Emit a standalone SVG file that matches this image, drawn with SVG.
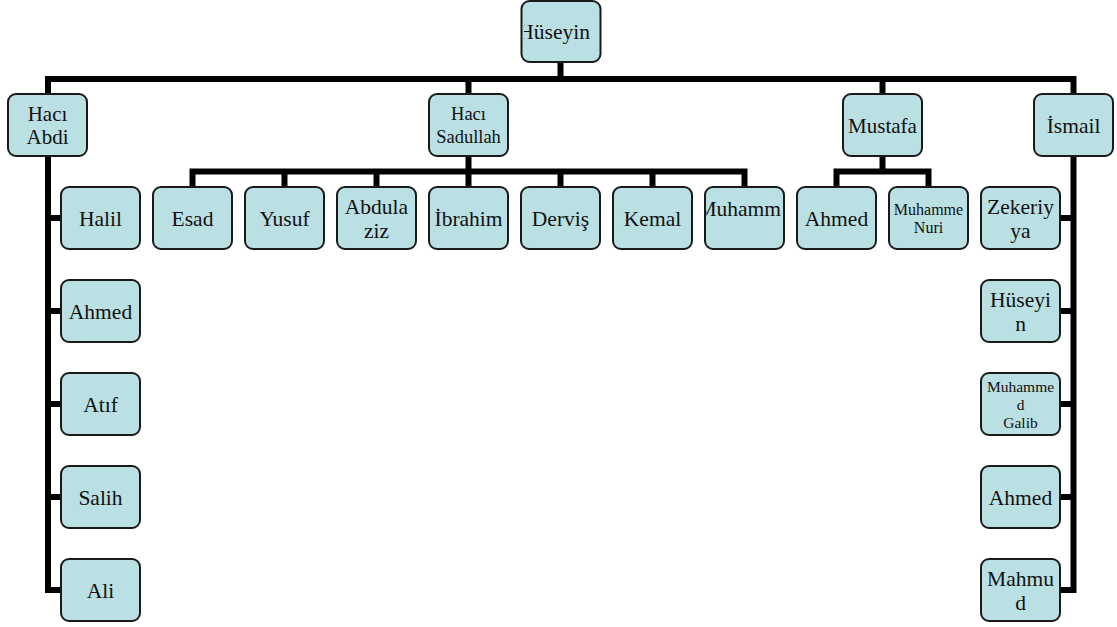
<svg xmlns="http://www.w3.org/2000/svg" width="1117" height="627" viewBox="0 0 1117 627">
<style>
.box{fill:#bbe0e3;stroke:#1a1a1a;stroke-width:2}
.t{font-family:"Liberation Serif","Times New Roman",serif;font-size:21.5px;fill:#111;text-anchor:middle}
.m{font-size:21px}
.s{font-size:18.5px}
.xs{font-size:15.5px}
.conn{fill:none;stroke:#000;stroke-width:6;stroke-linejoin:miter;stroke-linecap:butt}
</style>
<defs>
<clipPath id="cRoot"><rect x="524" y="1" width="74" height="61"/></clipPath>
<clipPath id="cMuh"><rect x="706.5" y="187" width="76" height="62"/></clipPath>
</defs>
<rect width="1117" height="627" fill="#fff"/>
<g id="connectors" class="conn">
<path d="M560.5,62 V79"/>
<path d="M48,94 V79 H1073.5 V94"/>
<path d="M468.5,79 V94"/>
<path d="M882.5,79 V94"/>
<path d="M468.5,156 V171.5"/>
<path d="M192.5,187 V171.5 H744.5 V187"/>
<path d="M284.5,171.5 V187 M376.5,171.5 V187 M468.5,171.5 V187 M560.5,171.5 V187 M652.5,171.5 V187"/>
<path d="M882.5,156 V171.5"/>
<path d="M836.5,187 V171.5 H928.5 V187"/>
<path d="M48,156 V590 H61 M48,218 H61 M48,311 H61 M48,404 H61 M48,497 H61"/>
<path d="M1073.5,156 V590 H1060 M1073.5,218 H1060 M1073.5,311 H1060 M1073.5,404 H1060 M1073.5,497 H1060"/>
</g>
<g id="n-root"><rect class="box" x="521.5" y="1" width="79" height="61" rx="8"/><text class="t" x="590" y="39" style="text-anchor:end" clip-path="url(#cRoot)">Hüseyin</text></g>
<g id="n-haci-abdi"><rect class="box" x="8" y="94" width="79" height="62" rx="8"/><text class="t m" x="47.5" y="121">Hacı</text><text class="t m" x="47.5" y="144">Abdi</text></g>
<g id="n-haci-sadullah"><rect class="box" x="429" y="94" width="79" height="62" rx="8"/><text class="t s" x="468.5" y="120">Hacı</text><text class="t s" x="468.5" y="143">Sadullah</text></g>
<g id="n-mustafa"><rect class="box" x="843" y="94" width="79" height="62" rx="8"/><text class="t m" x="882.5" y="133">Mustafa</text></g>
<g id="n-ismail"><rect class="box" x="1034" y="94" width="79" height="62" rx="8"/><text class="t" x="1073.5" y="133">İsmail</text></g>
<g id="n-esad"><rect class="box" x="153" y="187" width="79" height="62" rx="8"/><text class="t" x="192.5" y="226">Esad</text></g>
<g id="n-yusuf"><rect class="box" x="245" y="187" width="79" height="62" rx="8"/><text class="t" x="284.5" y="226">Yusuf</text></g>
<g id="n-abdulaziz"><rect class="box" x="337" y="187" width="79" height="62" rx="8"/><text class="t" x="376.5" y="214">Abdula</text><text class="t" x="376.5" y="238">ziz</text></g>
<g id="n-ibrahim"><rect class="box" x="429" y="187" width="79" height="62" rx="8"/><text class="t" x="468.5" y="226">İbrahim</text></g>
<g id="n-dervis"><rect class="box" x="521" y="187" width="79" height="62" rx="8"/><text class="t" x="560.5" y="226">Derviş</text></g>
<g id="n-kemal"><rect class="box" x="613" y="187" width="79" height="62" rx="8"/><text class="t" x="652.5" y="226">Kemal</text></g>
<g id="n-muhamm"><rect class="box" x="705" y="187" width="79" height="62" rx="8"/><text class="t" x="781" y="216" style="text-anchor:end" clip-path="url(#cMuh)">Muhamm</text></g>
<g id="n-ahmed-m"><rect class="box" x="797" y="187" width="79" height="62" rx="8"/><text class="t" x="836.5" y="226">Ahmed</text></g>
<g id="n-muhamme-nuri"><rect class="box" x="889" y="187" width="79" height="62" rx="8"/><text class="t" style="font-size:16px" x="928.5" y="214.5">Muhamme</text><text class="t" style="font-size:16px" x="928.5" y="232.5">Nuri</text></g>
<g id="n-halil"><rect class="box" x="61" y="187" width="79" height="62" rx="8"/><text class="t" x="100.5" y="226">Halil</text></g>
<g id="n-ahmed-a"><rect class="box" x="61" y="280" width="79" height="62" rx="8"/><text class="t" x="100.5" y="319">Ahmed</text></g>
<g id="n-atif"><rect class="box" x="61" y="373" width="79" height="62" rx="8"/><text class="t" x="100.5" y="412">Atıf</text></g>
<g id="n-salih"><rect class="box" x="61" y="466" width="79" height="62" rx="8"/><text class="t" x="100.5" y="505">Salih</text></g>
<g id="n-ali"><rect class="box" x="61" y="559" width="79" height="62" rx="8"/><text class="t" x="100.5" y="598">Ali</text></g>
<g id="n-zekeriya"><rect class="box" x="981" y="187" width="79" height="62" rx="8"/><text class="t" x="1020.5" y="214">Zekeriy</text><text class="t" x="1020.5" y="238">ya</text></g>
<g id="n-huseyin2"><rect class="box" x="981" y="280" width="79" height="62" rx="8"/><text class="t" x="1020.5" y="307">Hüseyi</text><text class="t" x="1020.5" y="331">n</text></g>
<g id="n-muhammed-galib"><rect class="box" x="981" y="373" width="79" height="62" rx="8"/><text class="t xs" x="1020.5" y="391.5">Muhamme</text><text class="t xs" x="1020.5" y="409.5">d</text><text class="t xs" x="1020.5" y="427.5">Galib</text></g>
<g id="n-ahmed-i"><rect class="box" x="981" y="466" width="79" height="62" rx="8"/><text class="t" x="1020.5" y="505">Ahmed</text></g>
<g id="n-mahmud"><rect class="box" x="981" y="559" width="79" height="62" rx="8"/><text class="t" x="1020.5" y="586">Mahmu</text><text class="t" x="1020.5" y="610">d</text></g>
</svg>
